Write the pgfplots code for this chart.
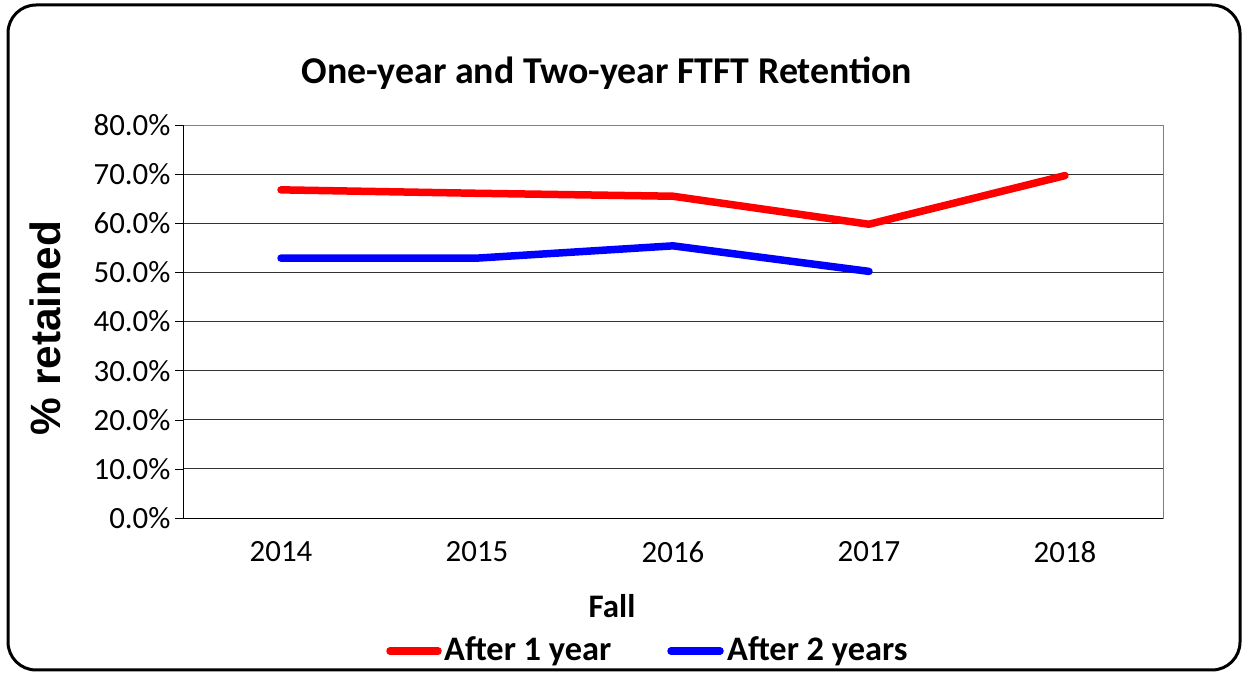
\documentclass[border=0pt]{standalone}
\usepackage{pgfplots}
\pgfplotsset{compat=1.18}
\usepackage{fontspec}
\setmainfont{Carlito}
\newfontfamily\arialfont{Liberation Sans}
\begin{document}
\begin{tikzpicture}
\useasboundingbox (0,0) rectangle (1244bp,673bp);
\draw[line width=3bp, rounded corners=28bp] (8bp,3bp) rectangle (1240bp,668bp);
\begin{axis}[
  at={(183bp,155bp)}, anchor=south west,
  scale only axis, width=980bp, height=393bp,
  xmin=-0.5, xmax=4.5, ymin=0, ymax=80,
  xtick={0,1,2,3,4},
  xticklabels={2014,2015,2016,2017,2018},
  major x tick style={draw=none},
  extra x ticks={-0.5,0.5,1.5,2.5,3.5,4.5},
  extra x tick labels={},
  extra x tick style={tick style={draw=black, thin}, major tick length=8bp, tick align=outside},
  ytick={0,10,...,80},
  yticklabel={\pgfmathprintnumber[fixed,fixed zerofill,precision=1]{\tick}\%},
  /pgf/number format/assume math mode=true,
  ymajorgrids, grid style={draw=black!80, line width=0.8pt},
  y tick style={draw=black, thin}, major tick length=8bp, tick align=outside,
  xtick pos=bottom, ytick pos=left,
  axis line style={draw=gray, line width=0.8pt},
  tick label style={font=\fontsize{31}{33}\selectfont},
  xticklabel style={yshift=-12bp},
  yticklabel style={xshift=-1bp},
  clip=false,
]
\addplot[red, line width=7.5bp, line cap=round, line join=round] coordinates {(0,66.8) (1,66.1) (2,65.5) (3,59.8) (4,69.7)};
\addplot[blue, line width=7.5bp, line cap=round, line join=round] coordinates {(0,52.9) (1,52.9) (2,55.4) (3,50.2)};
\draw[black, line width=0.8pt] (rel axis cs:0,0) -- (rel axis cs:0,1);
\draw[black, line width=0.8pt] (rel axis cs:0,0) -- (rel axis cs:1,0);
\end{axis}
\node[font=\bfseries\fontsize{38}{40}\selectfont] at (607bp,600bp) {One-year and Two-year FTFT Retention};
\node[font=\arialfont\bfseries\fontsize{42.5}{44}\selectfont, rotate=90] at (45bp,345bp) {\% retained};
\node[font=\bfseries\fontsize{33}{35}\selectfont] at (612bp,67bp) {Fall};
\draw[red, line width=7.5bp, line cap=round] (390bp,22bp) -- (438bp,22bp);
\node[font=\bfseries\fontsize{34.5}{36}\selectfont, anchor=west, inner sep=0pt] at (444bp,22bp) {After 1 year};
\draw[blue, line width=7.5bp, line cap=round] (671bp,22bp) -- (720bp,22bp);
\node[font=\bfseries\fontsize{34.5}{36}\selectfont, anchor=west, inner sep=0pt] at (727bp,22bp) {After 2 years};
\end{tikzpicture}
\end{document}
